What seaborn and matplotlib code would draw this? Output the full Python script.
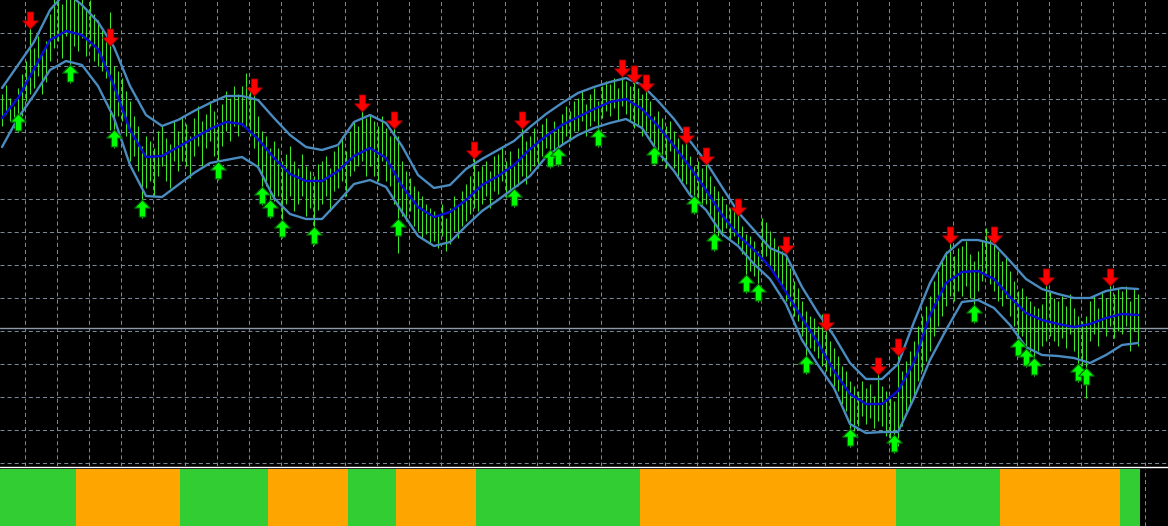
import numpy as np
import pandas as pd
import matplotlib
matplotlib.use('Agg')
import matplotlib.pyplot as plt
from matplotlib.path import Path
from matplotlib.lines import Line2D
import seaborn as sns


# ============================================================
# ДАННЫЕ (цены в пунктах, 285 баров)
# ============================================================

bar_high = [
    372, 381, 368, 360, 378, 392, 405, 439, 418, 430, 412, 425, 452, 470, 480, 462,
    485, 470, 478, 465, 472, 458, 466, 452, 446, 438, 430, 454, 400, 395, 388, 375,
    365, 350, 340, 320, 330, 325, 318, 335, 340, 328, 322, 345, 335, 350, 342, 330,
    348, 360, 345, 352, 365, 355, 340, 362, 375, 368, 380, 372, 380, 393, 375, 372,
    350, 335, 330, 318, 325, 318, 305, 312, 320, 305, 298, 312, 300, 295, 290, 302,
    305, 310, 298, 315, 320, 330, 315, 335, 345, 340, 356, 348, 352, 345, 340, 350,
    338, 330, 339, 330, 305, 295, 288, 280, 275, 270, 262, 258, 255, 250, 262, 248,
    258, 270, 262, 275, 282, 290, 309, 295, 300, 305, 295, 310, 312, 320, 305, 315,
    300, 318, 339, 325, 330, 338, 325, 342, 348, 335, 345, 340, 352, 360, 355, 365,
    368, 375, 362, 372, 378, 365, 380, 385, 382, 388, 378, 391, 385, 380, 385, 378,
    372, 376, 365, 350, 355, 348, 340, 345, 335, 328, 322, 324, 310, 300, 305, 298,
    303, 290, 280, 275, 270, 262, 258, 255, 252, 240, 232, 230, 225, 215, 248, 244,
    235, 228, 220, 215, 214, 198, 185, 178, 165, 155, 150, 148, 140, 152, 137, 125,
    118, 110, 100, 95, 85, 80, 75, 85, 78, 82, 70, 93, 80, 75, 68, 65,
    112, 95, 105, 115, 125, 140, 150, 160, 170, 185, 195, 205, 215, 224, 210, 218,
    220, 225, 212, 205, 215, 225, 238, 228, 224, 215, 205, 210, 195, 185, 175, 178,
    170, 165, 160, 158, 162, 182, 175, 168, 165, 170, 160, 172, 158, 150, 145, 150,
    165, 170, 158, 175, 168, 182, 172, 178, 175, 180, 165, 178, 172,
]

bar_low = [
    340, 352, 345, 338, 334, 350, 365, 372, 378, 390, 372, 384, 405, 418, 425, 408,
    430, 383, 420, 415, 428, 410, 420, 405, 400, 395, 388, 336, 318, 350, 345, 330,
    305, 310, 295, 248, 278, 285, 270, 290, 300, 285, 278, 305, 295, 305, 300, 288,
    310, 320, 300, 318, 325, 310, 286, 320, 335, 325, 340, 330, 340, 338, 330, 318,
    300, 261, 280, 248, 265, 270, 228, 262, 270, 255, 262, 270, 250, 258, 221, 256,
    262, 270, 255, 275, 278, 285, 270, 290, 295, 300, 305, 290, 300, 290, 285, 305,
    285, 280, 262, 213, 250, 245, 255, 240, 235, 228, 232, 222, 225, 218, 230, 215,
    222, 235, 228, 240, 245, 252, 258, 255, 262, 270, 258, 275, 272, 285, 268, 275,
    259, 280, 290, 282, 295, 300, 298, 310, 318, 298, 315, 300, 322, 330, 325, 335,
    335, 345, 330, 340, 345, 319, 348, 355, 350, 358, 345, 360, 352, 345, 338, 340,
    330, 335, 325, 301, 310, 305, 298, 315, 298, 290, 285, 282, 270, 252, 268, 260,
    262, 250, 215, 230, 230, 238, 225, 230, 222, 212, 173, 195, 190, 164, 205, 210,
    200, 195, 185, 178, 165, 160, 150, 145, 130, 92, 118, 115, 108, 100, 95, 90,
    80, 75, 62, 55, 19, 35, 40, 50, 42, 48, 38, 45, 40, 30, 25, 13,
    20, 40, 55, 62, 70, 85, 95, 105, 115, 130, 140, 150, 160, 170, 165, 175,
    170, 180, 168, 143, 175, 185, 190, 182, 175, 165, 160, 168, 150, 140, 109, 130,
    99, 110, 90, 115, 120, 125, 130, 125, 120, 128, 118, 132, 115, 84, 100, 68,
    125, 132, 120, 138, 130, 140, 128, 135, 132, 140, 115, 135, 120,
]

# Линии канала (значение на каждом 4-м баре)
mid_line = [
    348, 368, 397, 426, 435, 431, 417, 380, 336, 309, 310, 319, 328, 337, 344, 342,
    327, 308, 292, 285, 285, 295, 310, 318, 308, 280, 259, 249, 254, 266, 281, 290,
    301, 317, 330, 341, 349, 357, 364, 367, 357, 340, 320, 299, 276, 251, 231, 216,
    199, 174, 148, 123, 95, 72, 62, 62, 75, 104, 151, 183, 194, 195, 187, 169,
    153, 146, 142, 139, 142, 148, 152, 151,
]
upper_band = [
    378, 401, 424, 456, 474, 461, 444, 419, 380, 351, 340, 346, 355, 363, 370, 370,
    366, 348, 331, 319, 316, 321, 344, 351, 343, 320, 291, 278, 281, 297, 307, 316,
    325, 339, 352, 363, 373, 379, 384, 388, 381, 365, 347, 325, 304, 279, 254, 236,
    218, 211, 179, 153, 130, 103, 87, 87, 102, 144, 183, 212, 226, 226, 222, 205,
    187, 177, 172, 168, 168, 175, 178, 177,
]
lower_band = [
    319, 348, 371, 396, 405, 401, 380, 348, 301, 270, 269, 281, 293, 303, 306, 309,
    299, 268, 252, 247, 247, 264, 282, 286, 279, 254, 230, 220, 224, 240, 255, 266,
    278, 290, 309, 321, 331, 338, 343, 347, 338, 314, 295, 271, 256, 232, 220, 202,
    187, 162, 126, 101, 78, 42, 33, 34, 34, 68, 106, 136, 164, 166, 158, 141,
    119, 111, 110, 108, 103, 111, 121, 123,
]

# Сигналы
sell_bars = [7, 27, 63, 90, 98, 118, 130, 155, 158, 161, 171, 176, 184, 196, 206,
             219, 224, 237, 248, 261, 277]
sell_level = [446, 429, 379, 363, 346, 316, 346, 398, 392, 383, 331, 310, 259, 221, 144,
              100, 119, 231, 231, 189, 189]
buy_bars = [4, 17, 28, 35, 54, 65, 67, 70, 78, 99, 128, 137, 139, 149, 163, 173, 178,
            186, 189, 201, 212, 223, 243, 254, 256, 258, 269, 271]
buy_level = [344, 393, 328, 258, 296, 271, 258, 238, 231, 239, 269, 308, 310, 329, 311,
             262, 225, 183, 174, 102, 29, 23, 153, 119, 109, 100, 94, 90]

# Нижнее окно: тренд (серии одинакового состояния)
trend_runs = [("up", 19), ("down", 26), ("up", 22), ("down", 20), ("up", 12),
              ("down", 20), ("up", 41), ("down", 64), ("up", 26), ("down", 30), ("up", 5)]

bid_price = 138


# ============================================================
# ОФОРМЛЕНИЕ
# ============================================================

sns.set_theme(style="dark", rc={"axes.facecolor": "black", "figure.facecolor": "black"})
plt.rcParams["lines.scale_dashes"] = False

GRID = "#778899"
DASH = (0, (2.9, 2.2))


def arrow_path(up: bool) -> Path:
    """Толстая стрелка в стиле Wingdings (вверх или вниз)."""
    verts = [(0, 7), (6.5, 0.3), (2.6, 0.3), (2.6, -7), (-2.6, -7), (-2.6, 0.3), (-6.5, 0.3), (0, 7)]
    if not up:
        verts = [(x, -y) for x, y in verts]
    codes = [Path.MOVETO] + [Path.LINETO] * 6 + [Path.CLOSEPOLY]
    return Path(verts, codes)


n_bars = len(bar_high)
bars_idx = np.arange(n_bars)
lines_df = pd.DataFrame({
    "bar": np.arange(0, n_bars, 4),
    "mid": mid_line,
    "upper": upper_band,
    "lower": lower_band,
})

fig = plt.figure(figsize=(11.68, 5.26), dpi=100)
ax = fig.add_axes([0, 60 / 526, 1, 466 / 526])
ax2 = fig.add_axes([0, 0, 1, 57 / 526])

# --- основной график ---
ax.set_facecolor("black")
ax.set_xticks(np.arange(5.83, 291.5, 8))
ax.set_yticks(np.arange(2.6, 466, 33.1))
ax.grid(True, color=GRID, linestyle=DASH, linewidth=0.75)
ax.tick_params(length=0, labelbottom=False, labelleft=False)
for s in ax.spines.values():
    s.set_visible(False)

ax.axhline(bid_price, color="#8c9aab", linewidth=1.0, zorder=1)
ax.vlines(bars_idx, bar_low, bar_high, color="#3ee826", linewidth=0.75, zorder=2)

sns.lineplot(data=lines_df, x="bar", y="upper", color="#4a8cc0", linewidth=1.7, ax=ax, zorder=3)
sns.lineplot(data=lines_df, x="bar", y="lower", color="#4a8cc0", linewidth=1.7, ax=ax, zorder=3)
sns.lineplot(data=lines_df, x="bar", y="mid", color="#0a0ad2", linewidth=1.8, ax=ax, zorder=3)

sns.scatterplot(x=sell_bars, y=sell_level, marker=arrow_path(False), s=150,
                color="#ff0000", edgecolor="#a00000", linewidth=0.6, ax=ax, zorder=5)
sns.scatterplot(x=buy_bars, y=buy_level, marker=arrow_path(True), s=150,
                color="#00ff00", edgecolor="#0b5e0b", linewidth=0.8, ax=ax, zorder=5)
ax.set_xlabel("")
ax.set_ylabel("")
ax.set_xlim(-0.5, 291.5)
ax.set_ylim(0, 466)

# --- нижнее окно ---
palette = {"up": "#32cd32", "down": "#ffa500"}
trend = []
for state, n in trend_runs:
    trend += [state] * n

ax2.set_facecolor("black")
ax2.set_axisbelow(True)
ax2.bar(bars_idx, np.ones(n_bars), width=1.0, color=[palette[t] for t in trend], linewidth=0)
ax2.set_xlim(-0.5, 291.5)
ax2.set_ylim(0, 1)
ax2.set_xticks(np.arange(5.83, 291.5, 8))
ax2.set_yticks([])
ax2.grid(True, axis="x", color=GRID, linestyle=DASH, linewidth=0.75)
ax2.tick_params(length=0, labelbottom=False, labelleft=False)
for s in ax2.spines.values():
    s.set_visible(False)

sep = (526 - 466.8) / 526
fig.add_artist(Line2D([0, 1], [sep, sep], transform=fig.transFigure, color="white", linewidth=1.0))

fig.savefig("out.png", dpi=100, facecolor="black")
plt.close(fig)
